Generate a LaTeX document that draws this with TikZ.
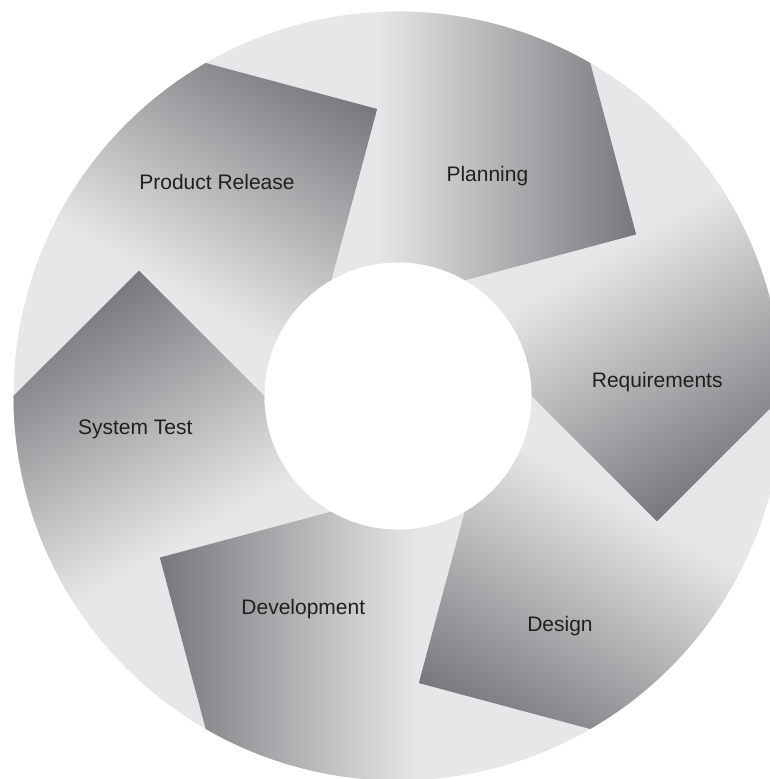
\documentclass[tikz,border=0pt]{standalone}
\usepackage{fontspec}
\setmainfont{Liberation Sans}
\definecolor{cRing}{RGB}{230,231,232}
\definecolor{cDark}{RGB}{119,120,123}
\definecolor{cText}{RGB}{35,31,32}
\newcommand{\Rout}{384.5}
\newcommand{\Rin}{133.5}
\newcommand{\Rtip}{287.8}
\tikzset{
	ring/.style ={fill=cRing},
	hole/.style ={fill=white},
	shadeArrow/.style={left color=cRing, right color=cDark},
	phase/.style={font=\fontsize{21}{25}\selectfont, text=cText, anchor=base, inner sep=0pt},
}

\begin{document}
\begin{tikzpicture}[x=1pt, y=1pt]
	\useasboundingbox (-398,-383) rectangle (372,396);
	\fill[white] (-398,-383) rectangle (372,396);
	% the ring
	\fill[ring] (0,0) circle[radius=\Rout];
	% six arrows, each a rotated copy of the top one
	\foreach \a in {0,-60,-120,-180,-240,-300}{
		\begin{scope}[transform canvas={rotate=\a}]
			\clip (120:\Rout) arc[start angle=120, end angle=60, radius=\Rout] -- (34.15:\Rtip) -- (60:\Rin)
				arc[start angle=60, end angle=120, radius=\Rin] -- (94.15:\Rtip) -- cycle;
			\shade[shadeArrow] (-20.8,-400) rectangle (238,400);
		\end{scope}
	}
	\fill[hole] (0,0) circle[radius=\Rin];
	% phase labels
	\node[phase] (plan) at (89.4,214) {Planning};
	\node[phase] (req)  at (259.2,8.7) {Requirements};
	\node[phase] (des)  at (162,-235.7) {Design};
	\node[phase] (dev)  at (-94.7,-218) {Development};
	\node[phase] (test) at (-262.8,-38) {System Test};
	\node[phase] (rel)  at (-181,206.5) {Product Release};
\end{tikzpicture}
\end{document}
